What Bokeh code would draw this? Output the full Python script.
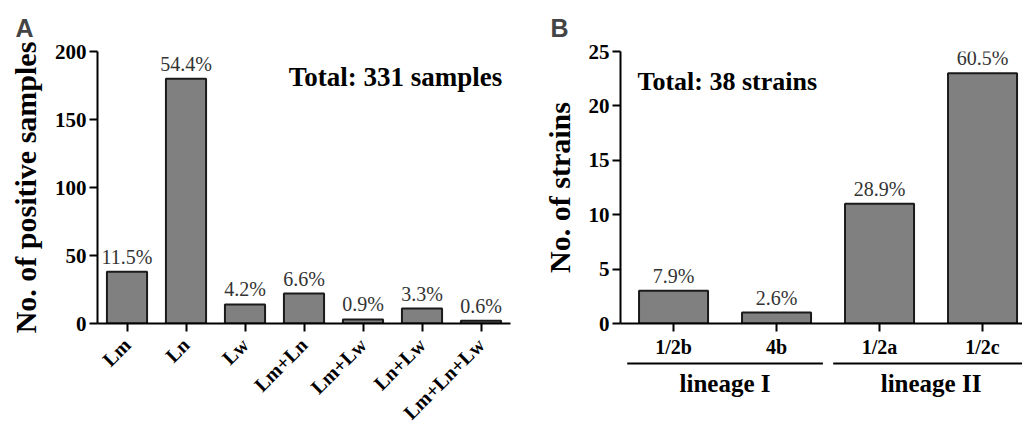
import math
from bokeh.plotting import figure
from bokeh.models import ColumnDataSource, Range1d, FixedTicker, Label, Title
from bokeh.layouts import row, column
from bokeh.core.properties import value
from bokeh.embed import file_html
from bokeh.resources import INLINE

# ---- data ----
categories_a = ["Lm", "Ln", "Lw", "Lm+Ln", "Lm+Lw", "Ln+Lw", "Lm+Ln+Lw"]
counts_a = [38, 180, 14, 22, 3, 11, 2]
pct_a = ["11.5%", "54.4%", "4.2%", "6.6%", "0.9%", "3.3%", "0.6%"]
yticks_a = [0, 50, 100, 150, 200]

serotypes_b = ["1/2b", "4b", "1/2a", "1/2c"]
counts_b = [3, 1, 11, 23]
pct_b = ["7.9%", "2.6%", "28.9%", "60.5%"]
yticks_b = [0, 5, 10, 15, 20, 25]
lineages = ["lineage I", "lineage II"]
lineage_members = [[0, 1], [2, 3]]

SERIF = "Liberation Serif"
BAR_FILL = "#808080"
BAR_LINE = "#1a1a1a"
PCT_COLOR = "#333333"


def style(p, ylabel, ylabel_size):
    p.xgrid.visible = False
    p.ygrid.visible = False
    p.outline_line_color = None
    p.background_fill_color = "white"
    p.border_fill_color = "white"
    for ax in (p.xaxis, p.yaxis):
        ax.axis_line_width = 2
        ax.axis_line_color = "black"
        ax.major_tick_line_width = 2
        ax.major_tick_line_color = "black"
        ax.major_tick_out = 8
        ax.major_tick_in = 0
        ax.minor_tick_line_color = None
        ax.major_label_text_font = SERIF
        ax.major_label_text_font_style = "bold"
        ax.major_label_text_font_size = "20px"
        ax.major_label_text_color = "black"
        ax.major_label_standoff = 4
    p.yaxis.major_label_text_font_size = "21px"
    p.yaxis.major_label_standoff = 3
    p.yaxis.axis_label = ylabel
    p.yaxis.axis_label_text_font = SERIF
    p.yaxis.axis_label_text_font_style = "bold"
    p.yaxis.axis_label_text_font_size = ylabel_size
    p.yaxis.axis_label_text_color = "black"
    p.yaxis.axis_label_standoff = 10


# ---- Panel A ----
src_a = ColumnDataSource(dict(x=list(range(len(categories_a))), top=counts_a, label=pct_a))
pA = figure(width=520, height=434, output_backend="svg", toolbar_location=None,
            x_range=Range1d(-0.5, len(categories_a) - 0.5), y_range=Range1d(0, 200),
            min_border_left=97, min_border_right=10, min_border_top=51, min_border_bottom=110)
pA.title = Title(text="A", align="left", offset=-82, text_font="Liberation Sans",
                 text_font_size="25px", text_font_style="bold", standoff=20)
style(pA, "No. of positive samples", "30px")
pA.xaxis.ticker = FixedTicker(ticks=list(range(len(categories_a))))
pA.xaxis.major_label_overrides = {i: c for i, c in enumerate(categories_a)}
pA.xaxis.major_label_orientation = math.pi / 4
pA.xaxis.major_label_text_font_size = "20px"
pA.xaxis.major_label_standoff = 10
pA.yaxis.ticker = FixedTicker(ticks=yticks_a)
pA.vbar(x="x", top="top", width=0.68, source=src_a, fill_color=BAR_FILL,
        line_color=BAR_LINE, line_width=2)
pA.text(x="x", y="top", text="label", source=src_a, y_offset=-4,
        text_align="center", text_baseline="bottom", text_font=value(SERIF),
        text_font_size="20px", text_color=PCT_COLOR)
pA.add_layout(Label(x=4.55, y=181, text="Total: 331 samples", text_align="center",
                    text_baseline="middle", text_font=SERIF, text_font_style="bold",
                    text_font_size="27px", text_color="black"))

# ---- Panel B ----
xr_b = Range1d(-0.515, 3.388)
src_b = ColumnDataSource(dict(x=list(range(len(serotypes_b))), top=counts_b, label=pct_b))
pB = figure(width=502, height=360, output_backend="svg", toolbar_location=None,
            x_range=xr_b, y_range=Range1d(0, 25),
            min_border_left=100, min_border_right=0, min_border_top=51, min_border_bottom=36)
pB.title = Title(text="B", align="left", offset=-70, text_font="Liberation Sans",
                 text_font_size="25px", text_font_style="bold", standoff=20)
style(pB, "No. of strains", "30px")
pB.xaxis.ticker = FixedTicker(ticks=list(range(len(serotypes_b))))
pB.xaxis.major_label_overrides = {i: c for i, c in enumerate(serotypes_b)}
pB.yaxis.ticker = FixedTicker(ticks=yticks_b)
pB.vbar(x="x", top="top", width=0.67, source=src_b, fill_color=BAR_FILL,
        line_color=BAR_LINE, line_width=2)
pB.text(x="x", y="top", text="label", source=src_b, y_offset=-4,
        text_align="center", text_baseline="bottom", text_font=value(SERIF),
        text_font_size="20px", text_color=PCT_COLOR)
pB.add_layout(Label(x=-0.35, y=22.2, text="Total: 38 strains", text_align="left",
                    text_baseline="middle", text_font=SERIF, text_font_style="bold",
                    text_font_size="26px", text_color="black"))

# ---- lineage grouping strip under panel B ----
pB2 = figure(width=502, height=74, output_backend="svg", toolbar_location=None,
             x_range=xr_b, y_range=Range1d(74, 0),
             min_border_left=100, min_border_right=0, min_border_top=0, min_border_bottom=0)
pB2.axis.visible = False
pB2.grid.visible = False
pB2.outline_line_color = None
x0 = [min(m) - 0.45 for m in lineage_members]
x1 = [max(m) + 0.45 for m in lineage_members]
xc = [(min(m) + max(m)) / 2 for m in lineage_members]
pB2.segment(x0=x0, x1=x1, y0=[3] * len(lineages), y1=[3] * len(lineages),
            line_color="black", line_width=2)
pB2.text(x=xc, y=[23] * len(lineages), text=lineages, text_align="center",
         text_baseline="middle", text_font=value(SERIF), text_font_style="bold",
         text_font_size="25px", text_color="black")

layout = row(pA, column(pB, pB2))
open("out.html", "w").write(file_html(layout, INLINE))
